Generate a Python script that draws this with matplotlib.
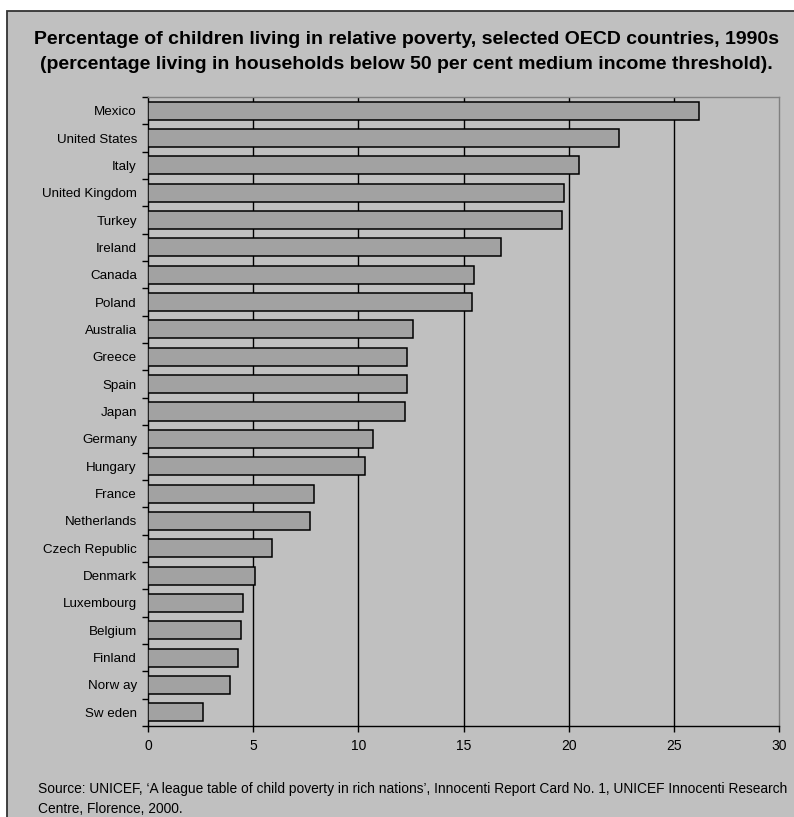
import matplotlib
matplotlib.use('Agg')
import matplotlib.pyplot as plt
from matplotlib.patches import Rectangle

countries = ['Mexico', 'United States', 'Italy', 'United Kingdom', 'Turkey', 'Ireland',
             'Canada', 'Poland', 'Australia', 'Greece', 'Spain', 'Japan', 'Germany',
             'Hungary', 'France', 'Netherlands', 'Czech Republic', 'Denmark',
             'Luxembourg', 'Belgium', 'Finland', 'Norw ay', 'Sw eden']
poverty = [26.2, 22.4, 20.5, 19.8, 19.7, 16.8, 15.5, 15.4, 12.6, 12.3, 12.3, 12.2, 10.7,
           10.3, 7.9, 7.7, 5.9, 5.1, 4.5, 4.4, 4.3, 3.9, 2.6]
x_ticks = [0, 5, 10, 15, 20, 25, 30]

title = ('Percentage of children living in relative poverty, selected OECD countries, 1990s\n'
         '(percentage living in households below 50 per cent medium income threshold).')
source = ("Source: UNICEF, \u2018A league table of child poverty in rich nations\u2019, Innocenti Report Card No. 1, UNICEF Innocenti Research\n"
          "Centre, Florence, 2000.")

plt.rcParams['font.family'] = ['Liberation Sans', 'DejaVu Sans']

bg = '#C0C0C0'
fig = plt.figure(figsize=(7.94, 8.17), dpi=100)
fig.patch.set_facecolor('white')

# chart area frame
W, H = 794, 817
frame = Rectangle((7 / W, -0.02), 1.0, 1 - 11 / H + 0.02, transform=fig.transFigure,
                  facecolor=bg, edgecolor='#333333', linewidth=1.3, zorder=0)
fig.patches.append(frame)

ax = fig.add_axes([148 / W, 1 - 726 / H, 631 / W, 629 / H])
ax.set_zorder(2)
ax.set_facecolor(bg)

ypos = list(range(len(countries)))
ax.barh(ypos, poverty, height=0.66, color='#A2A2A2', edgecolor='black', linewidth=1.1, zorder=3)

ax.set_xlim(0, 30)
ax.set_ylim(len(countries) - 0.5, -0.5)
ax.set_xticks(x_ticks)
ax.set_xticklabels([str(t) for t in x_ticks], fontsize=10)
ax.set_yticks(ypos)
ax.set_yticklabels(countries, fontsize=9.6)
ax.set_yticks([i - 0.5 for i in range(len(countries) + 1)], minor=True)
ax.tick_params(axis='y', which='major', length=0, pad=8)
ax.tick_params(axis='y', which='minor', length=4, width=1, direction='out')
ax.tick_params(axis='x', length=4, width=1, direction='out', pad=5)

for gx in x_ticks[1:-1]:
    ax.axvline(gx, color='black', linewidth=1.0, zorder=1)

ax.spines['left'].set_color('black')
ax.spines['bottom'].set_color('black')
ax.spines['top'].set_color('#808080')
ax.spines['right'].set_color('#808080')
for s in ax.spines.values():
    s.set_linewidth(1.0)

fig.text(406 / W, 1 - 52 / H, title, ha='center', va='center', fontsize=14,
         fontweight='bold', linespacing=1.6)
fig.text(38 / W, 1 - 799 / H, source, ha='left', va='center', fontsize=9.9, linespacing=1.55)

fig.savefig('out.png', dpi=100, facecolor=fig.get_facecolor())
